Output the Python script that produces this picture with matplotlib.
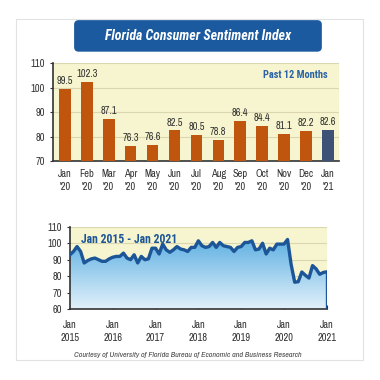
import numpy as np
import matplotlib
matplotlib.use('Agg')
import matplotlib.pyplot as plt
from matplotlib.patches import FancyBboxPatch, Rectangle

plt.rcParams['font.family'] = ['Archivo Narrow', 'Roboto Condensed', 'DejaVu Sans']
bold_font = ['Roboto Condensed', 'DejaVu Sans']

# top chart: past 12 months
months = ["Jan\n'20", "Feb\n'20", "Mar\n'20", "Apr\n'20", "May\n'20", "Jun\n'20", "Jul\n'20",
          "Aug\n'20", "Sep\n'20", "Oct\n'20", "Nov\n'20", "Dec\n'20", "Jan\n'21"]
recent = [99.5, 102.3, 87.1, 76.3, 76.6, 82.5, 80.5, 78.8, 86.4, 84.4, 81.1, 82.2, 82.6]

# bottom chart: monthly Jan 2015 - Jan 2021
y2015 = [93, 95, 98, 95, 88, 89.5, 90.5, 91, 90, 89, 89, 90.5]
y2016 = [91.5, 92, 92, 94, 91, 90, 93, 88, 92, 90, 90.5, 97]
y2017 = [97, 93.5, 99.5, 96, 94.5, 96, 98, 96.5, 96, 95, 97.5, 97.5]
y2018 = [101.5, 98.5, 97.5, 98, 100.5, 97.5, 100.5, 98.5, 98, 97.5, 95, 97.5]
y2019 = [98, 100.5, 100.5, 101.5, 96, 96.5, 100, 93.5, 97, 96, 99.5, 99.5]
y2020 = [99.5, 102.3, 87.1, 76.3, 76.6, 82.5, 80.5, 78.8, 86.4, 84.4, 81.1, 82.2]
y2021 = [82.6]
history = y2015 + y2016 + y2017 + y2018 + y2019 + y2020 + y2021
year_labels = ['Jan\n2015', 'Jan\n2016', 'Jan\n2017', 'Jan\n2018', 'Jan\n2019', 'Jan\n2020', 'Jan\n2021']

bg_yellow = '#f7f5cf'
grid_col = '#d9d6b0'
orange = '#c0560e'
navy = '#3d5275'
blue_dark = '#1d5698'
txt = '#333333'

fig = plt.figure(figsize=(3.8, 3.8), dpi=100)
fig.patch.set_facecolor('white')

# outer frame
fig.patches.append(Rectangle((0.042, 0.053), 0.913, 0.897, transform=fig.transFigure,
                             fill=False, edgecolor='#e2e2e2', linewidth=0.8))

# title box
fig.patches.append(FancyBboxPatch((0.195, 0.864), 0.652, 0.083,
                                  boxstyle='round,pad=0,rounding_size=0.012',
                                  transform=fig.transFigure, facecolor='#1c5a9f', edgecolor='none'))
fig.text(0.521, 0.905, 'Florida Consumer Sentiment Index', color='white', fontsize=10,
         fontweight='bold', fontstyle='italic', ha='center', va='center', family=bold_font)

# ---- top bar chart
ax1 = fig.add_axes([0.139, 0.576, 0.753, 0.258])
ax1.set_facecolor(bg_yellow)
x = np.arange(len(recent))
colors = [orange] * (len(recent) - 1) + [navy]
ax1.bar(x, [v - 70 for v in recent], bottom=70, width=0.53, color=colors, zorder=3)
for xi, v in zip(x, recent):
    ax1.text(xi, v + 1.2, f'{v:.1f}', ha='center', va='bottom', fontsize=7.5, color=txt)
ax1.set_xlim(-0.55, 12.5)
ax1.set_ylim(70, 110)
ax1.set_yticks([70, 80, 90, 100, 110])
ax1.yaxis.grid(True, color=grid_col, linewidth=0.8, zorder=0)
ax1.set_xticks(x)
ax1.set_xticklabels(months, fontsize=7.5, color=txt, linespacing=1.3)
ax1.tick_params(axis='y', labelsize=7.5, labelcolor=txt, length=2, color='#333333')
ax1.tick_params(axis='x', length=0, pad=6)
for s in ['top', 'right']:
    ax1.spines[s].set_visible(False)
ax1.spines['left'].set_color('#333333')
ax1.spines['bottom'].set_color('#333333')
ax1.spines['left'].set_linewidth(1.2)
ax1.spines['bottom'].set_linewidth(1.2)
ax1.text(0.96, 0.93, 'Past 12 Months', transform=ax1.transAxes, ha='right', va='top',
         fontsize=7.5, fontweight='bold', color='#2b63a5', family=bold_font)

# ---- bottom line chart
ax2 = fig.add_axes([0.184, 0.187, 0.676, 0.216])
ax2.set_facecolor(bg_yellow)
t = np.arange(len(history))
hist = np.array(history)
ax2.set_xlim(0, len(history) - 1)
ax2.set_ylim(60, 110)
ax2.yaxis.grid(True, color=grid_col, linewidth=0.8, zorder=0)
poly = ax2.fill_between(t, 60, hist, color='none', zorder=1)
grad = np.linspace(0, 1, 256).reshape(-1, 1)
img = ax2.imshow(grad, extent=[0, len(history) - 1, 60, 104], origin='lower', aspect='auto',
                 cmap=matplotlib.colors.LinearSegmentedColormap.from_list('g', ['#e2f1fa', '#5aaee2']),
                 zorder=2)
img.set_clip_path(poly.get_paths()[0], transform=ax2.transData)
ax2.plot(t, hist, color=blue_dark, linewidth=2.4, zorder=4, solid_joinstyle='round')
ax2.plot([t[-1], t[-1]], [60, hist[-1]], color=blue_dark, linewidth=2.4, zorder=4)
ax2.set_yticks([60, 70, 80, 90, 100, 110])
ax2.set_xticks(np.arange(0, len(history), 12))
ax2.set_xticklabels(year_labels, fontsize=7.5, color=txt, linespacing=1.4)
ax2.tick_params(axis='y', labelsize=7.5, labelcolor=txt, length=2, color='#333333')
ax2.tick_params(axis='x', direction='in', length=3, pad=8, color='#333333')
for s in ['top', 'right']:
    ax2.spines[s].set_visible(False)
ax2.spines['left'].set_color('#333333')
ax2.spines['bottom'].set_color('#333333')
ax2.spines['left'].set_linewidth(1.2)
ax2.spines['bottom'].set_linewidth(1.2)
ax2.text(0.045, 0.93, 'Jan 2015 - Jan 2021', transform=ax2.transAxes, ha='left', va='top',
         fontsize=8.5, fontweight='bold', color=blue_dark, zorder=5, family=bold_font)

fig.text(0.493, 0.065, 'Courtesy of University of Florida Bureau of Economic and Business Research',
         fontsize=5.8, fontstyle='italic', color='#444444', ha='center', va='center')

fig.savefig('out.png', dpi=100)
